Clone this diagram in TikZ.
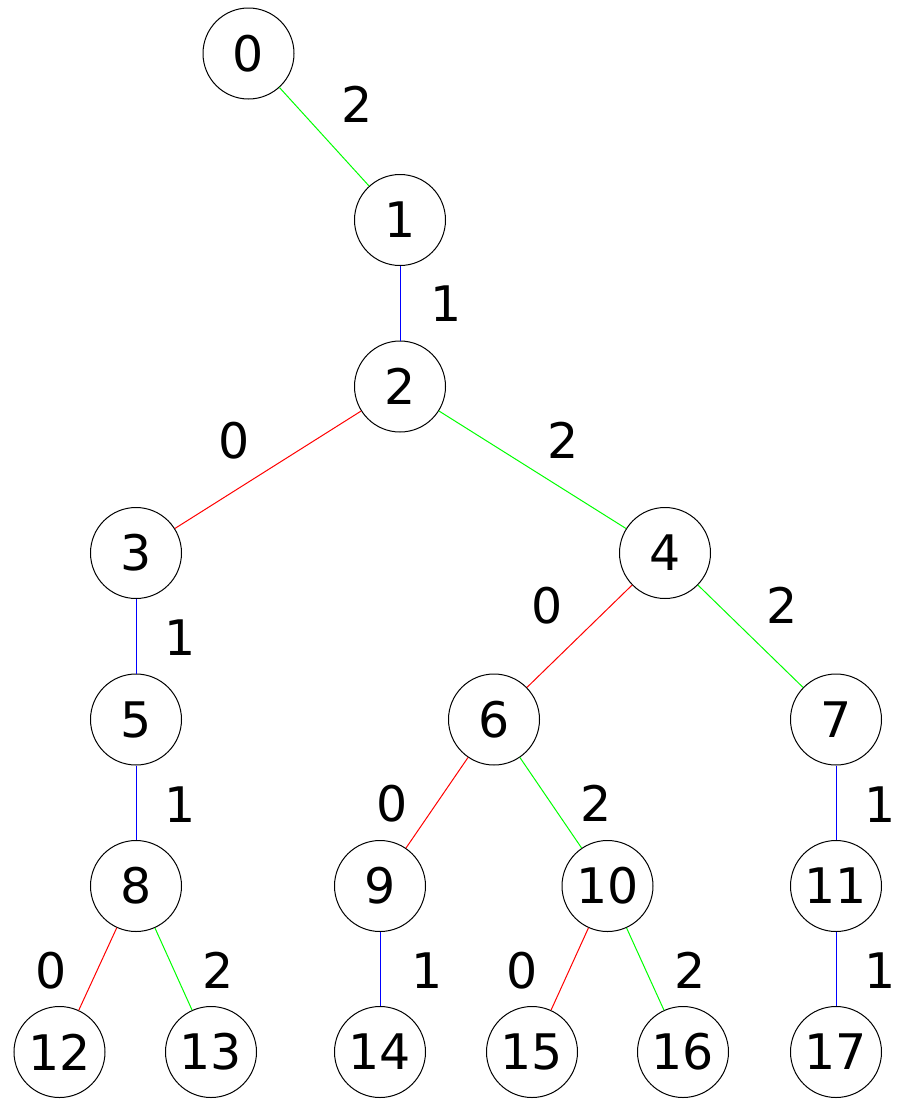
\documentclass[tikz,border=0pt]{standalone}
\usepackage{fontspec}
\setmainfont{DejaVu Sans}
\definecolor{edgered}{RGB}{255,0,0}
\definecolor{edgegreen}{RGB}{0,255,0}
\definecolor{edgeblue}{RGB}{0,0,255}
\begin{document}
\begin{tikzpicture}[x=1bp,y=-1bp,
  state/.style={circle,draw=black,line width=1bp,minimum size=91bp,inner sep=0pt,
    font=\fontsize{49bp}{59bp}\selectfont},
  digit/.style={anchor=base,inner sep=0pt,font=\fontsize{49bp}{59bp}\selectfont},
  redge/.style={draw=edgered,line width=1bp},
  bedge/.style={draw=edgeblue,line width=1bp},
  gedge/.style={draw=edgegreen,line width=1bp}]
\useasboundingbox (0,0) rectangle (900,1100);
% tree nodes
\node[state] (n0)  at (248.5,53.5) {0};
\node[state] (n1)  at (400,220) {1};
\node[state] (n2)  at (400,386.5) {2};
\node[state] (n3)  at (136,553) {3};
\node[state] (n4)  at (665,553) {4};
\node[state] (n5)  at (136,719.5) {5};
\node[state] (n6)  at (494,719.5) {6};
\node[state] (n7)  at (836,719.5) {7};
\node[state] (n8)  at (136,886) {8};
\node[state] (n9)  at (380,886) {9};
\node[state] (n10) at (607.5,886) {10};
\node[state] (n11) at (836,886) {11};
\node[state] (n12) at (59.5,1052) {12};
\node[state] (n13) at (211,1052) {13};
\node[state] (n14) at (380,1052) {14};
\node[state] (n15) at (532,1052) {15};
\node[state] (n16) at (683,1052) {16};
\node[state] (n17) at (836,1052) {17};
% edges
\draw[gedge] (n0) -- (n1);
\draw[bedge] (n1) -- (n2);
\draw[redge] (n2) -- (n3);
\draw[gedge] (n2) -- (n4);
\draw[bedge] (n3) -- (n5);
\draw[redge] (n4) -- (n6);
\draw[gedge] (n4) -- (n7);
\draw[bedge] (n5) -- (n8);
\draw[redge] (n6) -- (n9);
\draw[gedge] (n6) -- (n10);
\draw[bedge] (n7) -- (n11);
\draw[redge] (n8) -- (n12);
\draw[gedge] (n8) -- (n13);
\draw[bedge] (n9) -- (n14);
\draw[redge] (n10) -- (n15);
\draw[gedge] (n10) -- (n16);
\draw[bedge] (n11) -- (n17);
% edge labels (baseline positions)
\node[digit] (l01)   at (357,122) {2};
\node[digit] (l12)   at (446,321.5) {1};
\node[digit] (l23)   at (234,458) {0};
\node[digit] (l24)   at (563,458) {2};
\node[digit] (l35)   at (180,655) {1};
\node[digit] (l46)   at (547,623) {0};
\node[digit] (l47)   at (782,623) {2};
\node[digit] (l58)   at (180,822) {1};
\node[digit] (l69)   at (392,821) {0};
\node[digit] (l610)  at (596,821) {2};
\node[digit] (l711)  at (880,822) {1};
\node[digit] (l812)  at (51,988) {0};
\node[digit] (l813)  at (218,988) {2};
\node[digit] (l914)  at (427,988) {1};
\node[digit] (l1015) at (522,988) {0};
\node[digit] (l1016) at (690,988) {2};
\node[digit] (l1117) at (880,988) {1};
\end{tikzpicture}
\end{document}
